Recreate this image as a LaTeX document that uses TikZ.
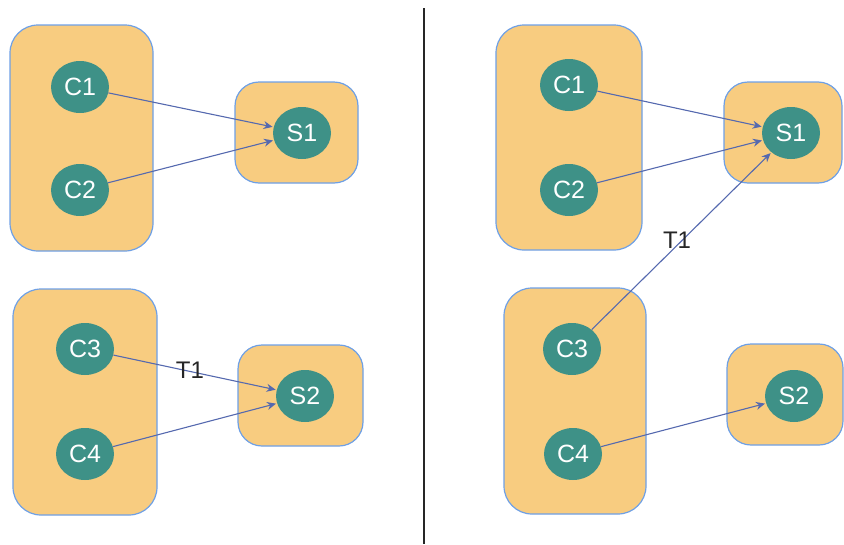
\documentclass[tikz,border=0pt]{standalone}
\usepackage{fontspec}
\setmainfont{Liberation Sans}
\usetikzlibrary{shapes.geometric,arrows.meta}
\definecolor{boxfill}{RGB}{248,204,128}
\definecolor{boxline}{RGB}{110,160,230}
\definecolor{tealc}{RGB}{62,145,135}
\definecolor{arrowc}{RGB}{85,105,175}
\tikzset{
  group/.style={draw=boxline, line width=1.2pt, fill=boxfill, rounded corners=28pt, inner sep=0pt},
  srvbox/.style={draw=boxline, line width=1.2pt, fill=boxfill, rounded corners=24pt, inner sep=0pt},
  proc/.style={ellipse, fill=tealc, text=white, minimum width=58pt, minimum height=52pt, inner sep=0pt, font=\fontsize{25}{25}\selectfont},
  link/.style={draw=arrowc, line width=1.1pt, -{Stealth[length=9pt,width=8pt]}, shorten >=1pt},
  lab/.style={text=black!85, font=\fontsize{24}{24}\selectfont, inner sep=0pt}
}
\begin{document}
\begin{tikzpicture}[x=1pt,y=-1pt]
\useasboundingbox (0,0) rectangle (844,544);
% divider
\draw[line width=2pt, black!85] (424,8) -- (424,544);
% ---------- left panel ----------
\node[group, minimum width=143pt, minimum height=226pt] (lg1) at (81.5,138) {};
\node[srvbox, minimum width=123pt, minimum height=101pt] (ls1box) at (296.5,132.5) {};
\node[group, minimum width=144pt, minimum height=226pt] (lg2) at (85,402) {};
\node[srvbox, minimum width=125pt, minimum height=101pt] (ls2box) at (300.5,395.5) {};
\node[proc] (lc1) at (80,87) {C1};
\node[proc] (lc2) at (80,190) {C2};
\node[proc] (ls1) at (302,133) {S1};
\node[proc] (lc3) at (85,349) {C3};
\node[proc] (lc4) at (85,454) {C4};
\node[proc] (ls2) at (305,396) {S2};
\draw[link] (lc1) -- (ls1);
\draw[link] (lc2) -- (ls1);
\draw[link] (lc3) -- (ls2);
\draw[link] (lc4) -- (ls2);
\node[lab] (lt1) at (190,370) {T1};
% ---------- right panel ----------
\node[group, minimum width=146pt, minimum height=225pt] (rg1) at (569,137.5) {};
\node[srvbox, minimum width=118pt, minimum height=101pt] (rs1box) at (783,132.5) {};
\node[group, minimum width=142pt, minimum height=226pt] (rg2) at (575,401) {};
\node[srvbox, minimum width=116pt, minimum height=101pt] (rs2box) at (785,394.5) {};
\node[proc] (rc1) at (569,85) {C1};
\node[proc] (rc2) at (569,190) {C2};
\node[proc] (rs1) at (791,133) {S1};
\node[proc] (rc3) at (572,349) {C3};
\node[proc] (rc4) at (573,454) {C4};
\node[proc] (rs2) at (794,396) {S2};
\draw[link] (rc1) -- (rs1);
\draw[link] (rc2) -- (rs1);
\draw[link] (rc3) -- (rs1);
\draw[link] (rc4) -- (rs2);
\node[lab] (rt1) at (677,240) {T1};
\end{tikzpicture}
\end{document}
